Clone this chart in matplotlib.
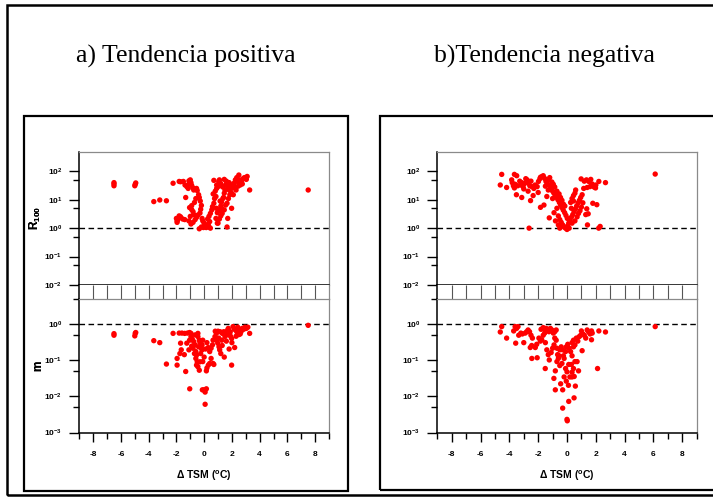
import matplotlib
matplotlib.use("Agg")
import matplotlib.pyplot as plt
from matplotlib.patches import Rectangle
from matplotlib.ticker import FixedLocator, NullFormatter

plt.rcParams["mathtext.fontset"] = "custom"
plt.rcParams["mathtext.rm"] = "Liberation Sans:bold"
plt.rcParams["mathtext.it"] = "Liberation Sans:bold"
plt.rcParams["mathtext.bf"] = "Liberation Sans:bold"
plt.rcParams["mathtext.default"] = "rm"
plt.rcParams["font.family"] = "Liberation Sans"

# ---- datos: tendencia positiva ----
pos_r_x = [-6.5, -6.5, -6.5, -4.97, -5.0, -4.93, -3.63, -3.2, -2.72, -2.24,
           -1.8, -1.7, -1.5, -1.1, -1.05, -1.0, -1.33,
           -2.0, -1.95, -1.9, -1.8, -1.7, -1.55, -1.4, -1.95,
           -1.38, -1.25, -1.15, -0.95, -0.9, -0.8, -0.75, -0.55, -0.5, -0.4,
           -0.35, -0.28, -0.6, -0.7, -0.9, -1.05, -0.9, -0.8, -0.75, -1.0,
           -1.1, -0.95, -0.8, -0.65, -0.55, -0.45, -0.3, -0.25, -0.2, -0.15,
           -0.1, 0.0, 0.05, -0.05, -0.2, -0.35, 0.15, 0.25, 0.35, 0.45,
           0.3, 0.4, 0.25, 0.35, 0.45, 0.55, 0.6, 0.7, 0.75, 0.85,
           0.65, 0.8, 0.9, 1.0, 1.05, 1.1, 0.7, 0.9,
           0.88, 0.95, 0.85, 0.95, 1.1, 1.2, 1.25, 1.35, 1.45, 1.5,
           1.55, 1.65, 1.7, 1.8, 1.85, 1.95, 2.05, 2.15, 2.25, 2.35,
           2.4, 2.5, 2.55, 2.6, 2.75, 2.8, 2.9, 3.04, 3.1, 3.0,
           3.28, 2.45, 2.3, 2.1, 1.98, 1.65, 1.7, 1.25, 1.45, 1.55,
           1.65, 1.75, 1.4, 1.3, 1.2, 1.1, 1.0, 1.15, 1.35, 1.8,
           1.6, 2.0, 2.2, 2.6, 2.7, 1.2, 1.3, 1.45, 2.3, 7.5]
pos_r_y = [36, 31, 40, 35, 31, 39, 8.6, 9.8, 9.2, 38,
           44, 43, 44, 46, 38, 50, 12,
           2.2, 1.8, 2.0, 2.7, 2.5, 2.1, 2.0, 1.6,
           33, 29, 25, 40, 32, 26, 22, 25, 21, 15,
           12, 9.0, 11, 8.0, 6.2, 5.3, 4.5, 3.8, 3.0, 2.6,
           1.8, 1.4, 1.6, 2.0, 2.4, 2.9, 3.4, 4.6, 6.3, 2.2,
           1.8, 1.5, 1.2, 1.05, 1.1, 0.95, 1.05, 1.2, 1.1, 1.0,
           1.4, 1.7, 2.1, 2.6, 3.3, 4.4, 5.7, 7.5, 11, 13,
           16, 20, 25, 29, 44, 50, 48, 33,
           5.0, 3.5, 2.2, 1.5, 4.4, 6.0, 8.3, 11, 17, 22,
           33, 40, 29, 22, 15, 18, 26, 38, 50, 60,
           44, 74, 50, 33, 36, 55, 60, 52, 66, 56,
           22, 30, 22, 15, 5.0, 1.1, 2.2, 5.0, 4.4, 6.5,
           7.5, 11, 12, 3.3, 2.7, 2.1, 1.5, 9.0, 28, 40,
           45, 33, 28, 41, 47, 37, 30, 52, 47, 22]

pos_m_x = [-6.5, -6.5, -4.97, -5.0, -4.93, -3.63, -3.2, -2.72, -2.24, -1.95,
           -1.95, -1.8, -1.6, -1.4, -1.2, -1.05, -0.95, -1.7, -1.65, -1.75,
           -1.43, -1.33, -1.04, -1.1, -1.25, -1.05, -0.95, -0.85, -0.75, -0.65,
           -0.8, -0.6, -0.55, -0.6, -0.5, -0.55, -0.45, -0.35, -0.3, -0.25,
           -0.2, -0.15, -0.35, -0.45, -0.65, -0.45, -0.3, -0.1, -0.15, -0.4,
           -0.7, -0.9, -0.13, -0.03, 0.07, 0.16, 0.07,
           0.16, 0.2, 0.3, 0.4, 0.5, 0.4, 0.5, 0.6, 0.64, 0.7,
           0.64, 0.78, 0.88, 0.98, 1.07, 1.12, 1.2, 1.27, 1.31, 1.41,
           1.5, 1.6, 1.7, 1.74, 1.84, 1.98, 1.88, 2.08, 2.18, 2.32,
           2.42, 2.56, 2.66, 2.75, 2.85, 2.94, 3.04, 3.28, 3.15, 1.98,
           1.45, 2.2, 2.0, 1.8, 1.6, 1.3, 1.05, 0.9, 1.15, 2.4,
           2.5, 2.6, 2.3, 1.9, 1.5, 1.0, 0.8, 0.3, 0.2, 0.1,
           0.0, -0.1, 7.5]
pos_m_y = [0.53, 0.48, 0.54, 0.46, 0.57, 0.34, 0.30, 0.077, 0.54, 0.11,
           0.072, 0.55, 0.55, 0.54, 0.55, 0.57, 0.54, 0.29, 0.19, 0.15,
           0.14, 0.048, 0.016, 0.19, 0.29, 0.35, 0.44, 0.37, 0.32, 0.26,
           0.21, 0.17, 0.136, 0.11, 0.089, 0.072, 0.065, 0.052, 0.089, 0.15,
           0.21, 0.26, 0.35, 0.44, 0.49, 0.54, 0.30, 0.35, 0.19, 0.23,
           0.15, 0.24, 0.015, 0.015, 0.013, 0.016, 0.006,
           0.05, 0.06, 0.072, 0.08, 0.11, 0.17, 0.21, 0.26, 0.08, 0.075,
           0.35, 0.44, 0.54, 0.29, 0.23, 0.19, 0.15, 0.35, 0.54, 0.60,
           0.44, 0.49, 0.67, 0.74, 0.54, 0.39, 0.60, 0.83, 0.70, 0.63,
           0.80, 0.70, 0.60, 0.74, 0.70, 0.80, 0.74, 0.54, 0.80, 0.072,
           0.12, 0.22, 0.30, 0.20, 0.33, 0.25, 0.40, 0.35, 0.60, 0.55,
           0.50, 0.52, 0.45, 0.45, 0.58, 0.62, 0.62, 0.22, 0.30, 0.20,
           0.12, 0.09, 0.9]

# ---- datos: tendencia negativa ----
neg_r_x = [-4.63, -4.53, -4.19, -3.65, -3.49, -3.84, -3.8, -3.72, -3.65, -3.6,
           -3.42, -3.28, -3.19, -3.14, -3.05, -2.95, -2.86, -2.77, -2.67, -2.58,
           -2.44, -2.3, -2.21, -2.07, -1.98, -1.88, -1.84, -1.74, -1.65, -1.55,
           -1.46, -1.37, -1.28, -1.19, -1.1, -1.0, -0.91, -0.81, -0.72, -0.63,
           -0.53, -0.44, -0.35, -0.26, -0.16, -0.07, 0.02, 0.12, 0.21, 0.3,
           0.4, 0.49, 0.58, 0.67, 0.77, 0.86, 0.95, 1.05, 1.16, 1.4,
           1.6, 1.74, 1.88, 1.98, 1.51, 1.65, 2.0, 2.21, 2.67, 0.98,
           1.2, 1.35,
           -3.51, -3.14, -2.53, -2.63, -1.84, -1.6, -1.23, -1.4, -1.0, -0.7,
           -0.9, -0.6, -0.5, -0.4, -0.3, -0.2, -0.1, 0.0, 0.05, 0.15,
           -0.5, -0.6, -0.8, -0.35, -0.55, -0.7, -0.45, -0.25, -0.15, 0.25,
           0.35, 0.45, 0.55, 0.6, 0.45, 0.3, 0.35, 0.55, 0.7, 0.8,
           0.9, 1.0, 1.1, 1.42, 2.2, 2.3, 1.79, 2.07, 1.37, 1.47,
           1.3, -1.5, -2.0, -2.35, -2.7, -1.2, -1.05, -0.95, -0.85, -1.3,
           -2.5, -3.0, 6.12]
neg_r_y = [33, 78, 27, 78, 70, 50, 40, 31, 26, 35,
           31, 45, 33, 40, 29, 37, 55, 50, 38, 31,
           29, 25, 33, 29, 44, 55, 62, 65, 70, 56,
           44, 37, 50, 31, 25, 20, 17, 14, 12, 10,
           8.0, 6.5, 5.3, 4.3, 3.5, 2.8, 2.2, 1.5, 1.9, 2.4,
           3.0, 3.8, 4.7, 6.0, 7.7, 9.5, 12, 15, 25, 27,
           29, 36, 28, 26, 44, 52, 33, 44, 40, 54,
           45, 50,
           15, 12, 9.3, 1.0, 5.4, 6.5, 2.3, 13, 11, 5.0,
           3.5, 2.7, 2.0, 1.6, 1.3, 1.1, 1.0, 0.9, 1.2, 1.0,
           1.0, 1.3, 1.8, 9.5, 16, 20, 12, 7.0, 6.0, 8.0,
           11, 14, 17, 22, 9.0, 5.0, 1.5, 1.8, 2.5, 3.3,
           4.1, 5.5, 7.8, 1.3, 1.0, 1.15, 7.5, 6.7, 4.8, 3.2,
           3.0, 30, 18, 14, 20, 60, 42, 35, 28, 22,
           45, 24, 80]

neg_m_x = [-4.63, -4.53, -4.19, -3.7, -3.6, -3.5, -3.4, -3.56, -3.35, -3.2,
           -3.1, -3.0, -2.9, -2.8, -2.7, -2.6, -2.5, -2.4, -2.55, -2.45,
           -2.44, -2.07, -2.2, -2.1, -1.95, -1.85, -1.75, -1.65, -1.55, -1.5,
           -1.45, -1.35, -1.25, -1.15, -1.05, -0.95, -0.85, -0.75, -1.8, -1.65,
           -1.5, -1.4, -1.3, -1.23, -1.51, -1.1, -1.0, -0.9, -0.85, -0.75,
           -0.7, -0.65, -0.6, -0.55, -0.5, -0.4, -0.3, -0.25, -0.2, -0.1,
           -0.05, 0.05, 0.15, 0.25, 0.35, 0.45, 0.35, 0.55, 0.45, 0.65,
           0.75, 0.85, 0.95, 1.0, 1.1, 1.2, 1.3, 1.4, 1.5, 1.6,
           1.7, 1.75, 1.7, 1.05, 2.21, 2.67, 6.12, 2.12,
           -0.81, -0.91, -0.81, -0.44, -0.3, -0.3, 0.0, 0.02, 0.12, 0.49,
           0.58, -0.1, 0.0, -0.2, -0.05, 0.2, 0.35, 0.45, 0.12, 0.3,
           0.55, 0.7, 0.8, 0.5, 0.35, 0.1, -0.5, -0.35, -0.7]
neg_m_y = [0.59, 0.83, 0.40, 0.63, 0.83, 0.74, 0.83, 0.29, 0.48, 0.55,
           0.52, 0.30, 0.55, 0.60, 0.67, 0.60, 0.48, 0.40, 0.22, 0.25,
           0.11, 0.115, 0.22, 0.27, 0.40, 0.33, 0.36, 0.48, 0.55, 0.67,
           0.74, 0.70, 0.60, 0.74, 0.67, 0.55, 0.60, 0.67, 0.70, 0.78,
           0.30, 0.19, 0.14, 0.10, 0.058, 0.16, 0.21, 0.26, 0.40, 0.35,
           0.21, 0.14, 0.11, 0.13, 0.19, 0.23, 0.19, 0.13, 0.11, 0.17,
           0.23, 0.27, 0.21, 0.17, 0.13, 0.23, 0.30, 0.26, 0.35, 0.40,
           0.33, 0.44, 0.48, 0.63, 0.52, 0.48, 0.40, 0.67, 0.59, 0.52,
           0.63, 0.55, 0.36, 0.18, 0.63, 0.59, 0.83, 0.058,
           0.05, 0.031, 0.015, 0.022, 0.015, 0.0047, 0.0023, 0.0021, 0.0072, 0.009,
           0.019, 0.058, 0.047, 0.034, 0.026, 0.034, 0.046, 0.058, 0.075, 0.075,
           0.09, 0.09, 0.05, 0.035, 0.034, 0.02, 0.07, 0.08, 0.09]

titles = ["a) Tendencia positiva", "b)Tendencia negativa"]
r_ticks = [1e-2, 1e-1, 1, 10, 100]
r_labels = [r"$10^{-2}$", r"$10^{-1}$", r"$10^{0}$", r"$10^{1}$", r"$10^{2}$"]
r_minor = [0.05, 0.5, 5, 50]
m_ticks = [1e-3, 1e-2, 1e-1, 1]
m_labels = [r"$10^{-3}$", r"$10^{-2}$", r"$10^{-1}$", r"$10^{0}$"]
m_minor = [0.005, 0.05, 0.5]
x_major = [-8, -6, -4, -2, 0, 2, 4, 6, 8]
x_minor = [-9, -7, -5, -3, -1, 1, 3, 5, 7, 9]

W, H = 713, 498
fig = plt.figure(figsize=(W / 100, H / 100), dpi=100)


def px_axes(left, top, right, bottom):
    return fig.add_axes([left / W, 1 - bottom / H, (right - left) / W, (bottom - top) / H])


def px_box(left, top, right, bottom, lw=1.6):
    fig.add_artist(Rectangle((left / W, 1 - bottom / H), (right - left) / W, (bottom - top) / H,
                             transform=fig.transFigure, fill=False, ec="black", lw=lw,
                             clip_on=False))


def style_spines(ax, gray_sides):
    for side, sp in ax.spines.items():
        if side in gray_sides:
            sp.set_color("#8a8a8a")
            sp.set_linewidth(0.9)
        else:
            sp.set_color("black")
            sp.set_linewidth(1.1)


def log_yaxis(ax, ticks, labels, minor, lims):
    ax.set_yscale("log")
    ax.set_ylim(*lims)
    ax.yaxis.set_major_locator(FixedLocator(ticks))
    ax.set_yticklabels(labels)
    ax.yaxis.set_minor_locator(FixedLocator(minor))
    ax.yaxis.set_minor_formatter(NullFormatter())
    ax.tick_params(axis="y", which="major", length=7.2, width=1.0, pad=5, labelsize=6)
    ax.tick_params(axis="y", which="minor", length=4.3, width=1.0)


def panel(left, right, rx, ry, mx, my):
    cx = (left + right) / 2

    # R100 arriba
    ax_r = px_axes(left, 151.7, right, 285)
    ax_r.scatter(rx, ry, s=15, c="red", edgecolors="none", zorder=3)
    ax_r.axhline(1, color="black", lw=1.0, ls=(0, (4, 2.5)))
    ax_r.set_xlim(-9, 9)
    log_yaxis(ax_r, r_ticks, r_labels, r_minor, (1e-2, 10 ** 2.69))
    ax_r.tick_params(axis="x", which="both", bottom=False, labelbottom=False)
    style_spines(ax_r, ("top", "right"))

    # franja de corte entre ejes
    ax_s = px_axes(left, 285, right, 299)
    ax_s.set_xlim(-9, 9)
    ax_s.set_ylim(0, 1)
    ax_s.vlines(range(-8, 9), 0, 1, color="#555555", lw=0.8)
    ax_s.set_xticks([])
    ax_s.set_yticks([0])
    ax_s.set_yticklabels([""])
    ax_s.tick_params(axis="y", length=4.3, width=1.0)
    style_spines(ax_s, ("right",))
    ax_s.spines["top"].set_visible(False)
    ax_s.spines["bottom"].set_visible(False)

    # m abajo
    ax_m = px_axes(left, 299, right, 432.5)
    ax_m.scatter(mx, my, s=15, c="red", edgecolors="none", zorder=3)
    ax_m.axhline(1, color="black", lw=1.0, ls=(0, (4, 2.5)))
    ax_m.set_xlim(-9, 9)
    log_yaxis(ax_m, m_ticks, m_labels, m_minor, (1e-3, 10 ** 0.68))
    ax_m.set_xticks(x_major)
    ax_m.set_xticklabels([str(v) for v in x_major])
    ax_m.set_xticks(x_minor, minor=True)
    ax_m.tick_params(axis="x", which="major", length=6.5, width=1.0, pad=7, labelsize=6)
    ax_m.tick_params(axis="x", which="minor", length=4.0, width=1.0)
    for lab in ax_m.get_xticklabels():
        lab.set_fontweight("bold")
    style_spines(ax_m, ("top", "right"))

    fig.text(35 / W, 1 - 218 / H, r"$R_{100}$", rotation=90, ha="center", va="center",
             fontsize=8.5)
    fig.text(38 / W, 1 - 366 / H, "m", rotation=90, ha="center", va="center",
             fontsize=8.5, fontweight="bold")
    fig.text(cx / W, 1 - 476 / H, "\u0394 TSM ($^{o}$C)", ha="center", va="center",
             fontsize=7.5, fontweight="bold")


px_box(7, 5, 760, 495, lw=1.8)
px_box(24, 116, 348, 491)
px_box(380, 116, 760, 490)

panel(79.3, 329, pos_r_x, pos_r_y, pos_m_x, pos_m_y)
panel(437.3, 696.7, neg_r_x, neg_r_y, neg_m_x, neg_m_y)

fig.text(186 / W, 1 - 63 / H, titles[0], ha="center", va="baseline",
         fontsize=18.5, family="Liberation Serif")
fig.text(545 / W, 1 - 63 / H, titles[1], ha="center", va="baseline",
         fontsize=18.5, family="Liberation Serif")

fig.savefig("out.png", dpi=100)
